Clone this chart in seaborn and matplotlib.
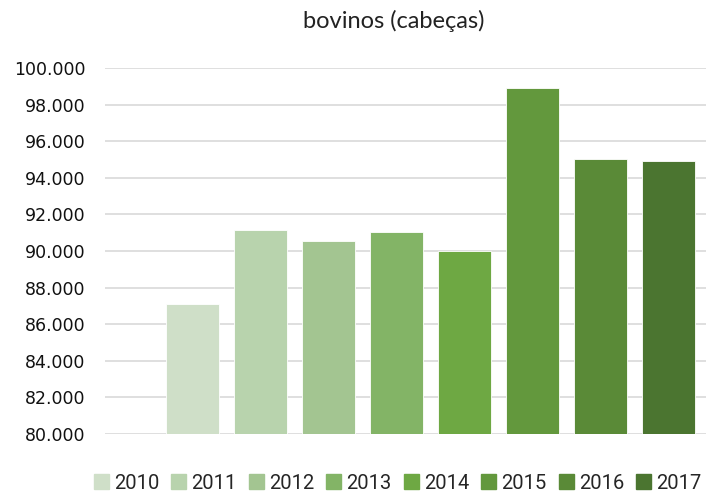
import matplotlib
matplotlib.use("Agg")
import matplotlib.pyplot as plt
from matplotlib.ticker import FuncFormatter
import pandas as pd
import seaborn as sns

years = ["2010", "2011", "2012", "2013", "2014", "2015", "2016", "2017"]
heads = [87100, 91150, 90550, 91040, 90000, 98900, 95030, 94950]
colors = ["#cfdfc8", "#b8d3ad", "#a3c591", "#83b466",
          "#6ea843", "#63983d", "#5a8a37", "#4b7530"]
yticks = list(range(80000, 100001, 2000))

df = pd.DataFrame({"ano": years, "bovinos": heads})

sns.set_theme(style="white")
plt.rcParams["font.family"] = ["DejaVu Sans"]

fig = plt.figure(figsize=(7.06, 4.94), dpi=100)
ax = fig.add_axes([0.149, 0.1215, 0.851, 0.7405])

sns.barplot(data=df, x="ano", y="bovinos", hue="ano", palette=colors,
            width=0.78, legend=False, ax=ax, saturation=1,
            edgecolor="white", linewidth=0.6)

ax.set_ylim(80000, 100000)
ax.set_xlim(-1.29, 7.55)
ax.set_yticks(yticks)
ax.yaxis.set_major_formatter(FuncFormatter(lambda v, p: f"{int(v):,}".replace(",", ".")))
ax.grid(axis="y", color="#d9d9d9", linewidth=1.2)
ax.set_axisbelow(True)
for s in ax.spines.values():
    s.set_visible(False)
ax.set_xticks([])
ax.set_xlabel("")
ax.set_ylabel("")
ax.tick_params(axis="y", length=0, pad=14, labelsize=12.5, labelcolor="#111111")

fig.text(0.558, 0.958, "bovinos (cabeças)", ha="center", va="center",
         fontsize=17, family=["Lato", "DejaVu Sans"], color="#222222")

handles = [plt.Rectangle((0, 0), 1, 1, color=c) for c in colors]
fig.legend(handles, years, ncol=8, loc="center", bbox_to_anchor=(0.563, 0.022),
           frameon=False, handlelength=0.75, handleheight=0.75, handletextpad=0.25,
           columnspacing=0.6, borderpad=0.1,
           prop={"family": ["Roboto", "DejaVu Sans"], "size": 14.5})

fig.savefig("out.png", dpi=100)
